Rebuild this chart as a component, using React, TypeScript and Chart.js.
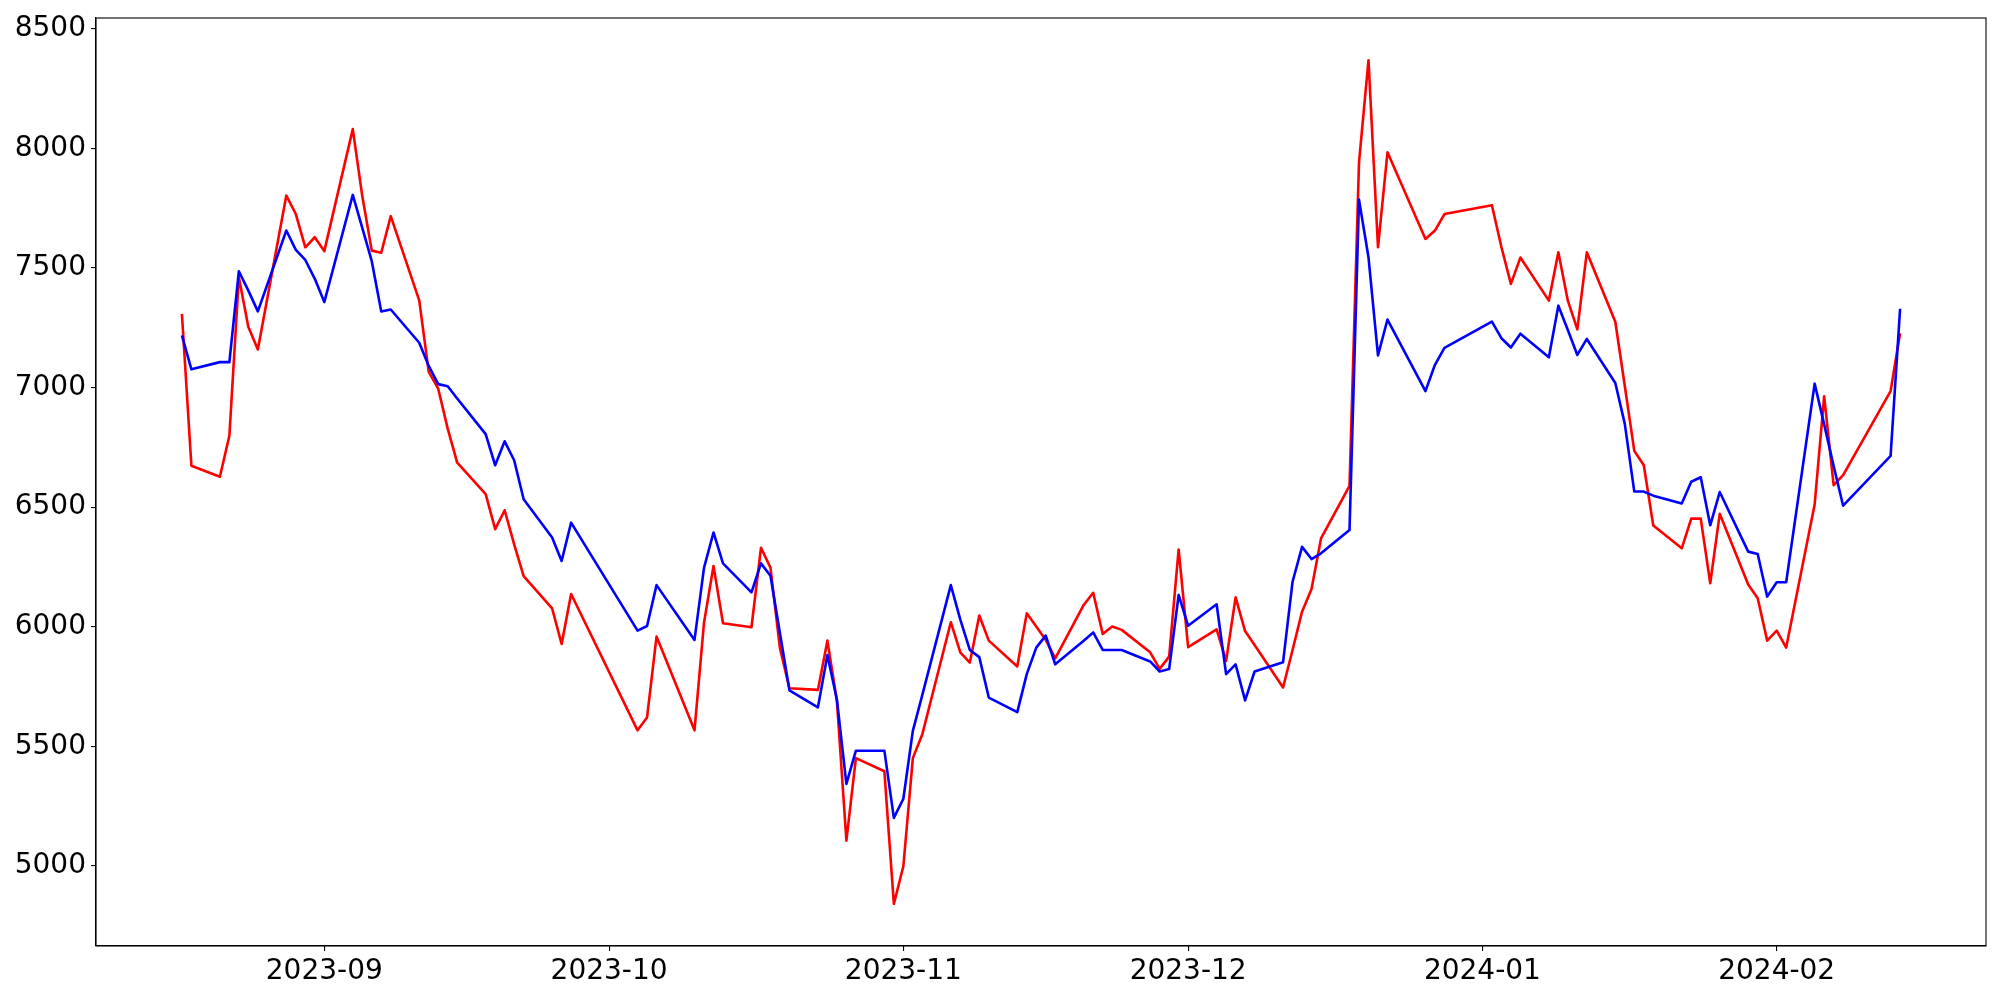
import React, { useEffect, useRef } from "react";
import { Chart, registerables } from "chart.js";

Chart.register(...registerables);

const dates: string[] = [
  "2023-08-17", "2023-08-18", "2023-08-21", "2023-08-22", "2023-08-23", "2023-08-24", "2023-08-25",
  "2023-08-28", "2023-08-29", "2023-08-30", "2023-08-31", "2023-09-01",
  "2023-09-04", "2023-09-05", "2023-09-06", "2023-09-07", "2023-09-08",
  "2023-09-11", "2023-09-12", "2023-09-13", "2023-09-14", "2023-09-15",
  "2023-09-18", "2023-09-19", "2023-09-20", "2023-09-21", "2023-09-22",
  "2023-09-25", "2023-09-26", "2023-09-27",
  "2023-10-04", "2023-10-05", "2023-10-06",
  "2023-10-10", "2023-10-11", "2023-10-12", "2023-10-13",
  "2023-10-16", "2023-10-17", "2023-10-18", "2023-10-19", "2023-10-20",
  "2023-10-23", "2023-10-24", "2023-10-25", "2023-10-26", "2023-10-27",
  "2023-10-30", "2023-10-31", "2023-11-01", "2023-11-02", "2023-11-03",
  "2023-11-06", "2023-11-07", "2023-11-08", "2023-11-09", "2023-11-10",
  "2023-11-13", "2023-11-14", "2023-11-15", "2023-11-16", "2023-11-17",
  "2023-11-20", "2023-11-21", "2023-11-22", "2023-11-23", "2023-11-24",
  "2023-11-27", "2023-11-28", "2023-11-29", "2023-11-30", "2023-12-01",
  "2023-12-04", "2023-12-05", "2023-12-06", "2023-12-07", "2023-12-08",
  "2023-12-11", "2023-12-12", "2023-12-13", "2023-12-14", "2023-12-15",
  "2023-12-18", "2023-12-19", "2023-12-20", "2023-12-21", "2023-12-22",
  "2023-12-26", "2023-12-27", "2023-12-28",
  "2024-01-02", "2024-01-03", "2024-01-04", "2024-01-05",
  "2024-01-08", "2024-01-09", "2024-01-10", "2024-01-11", "2024-01-12",
  "2024-01-15", "2024-01-16", "2024-01-17", "2024-01-18", "2024-01-19",
  "2024-01-22", "2024-01-23", "2024-01-24", "2024-01-25", "2024-01-26",
  "2024-01-29", "2024-01-30", "2024-01-31", "2024-02-01", "2024-02-02",
  "2024-02-05", "2024-02-06", "2024-02-07", "2024-02-08",
  "2024-02-13", "2024-02-14",
];

const redValues: number[] = [
  7308, 6673, 6627, 6798, 7461, 7253, 7159,
  7802, 7725, 7586, 7628, 7570,
  8080, 7800, 7572, 7563, 7716,
  7364, 7065, 6995, 6828, 6686,
  6554, 6408, 6487, 6344, 6212,
  6077, 5928, 6137,
  5567, 5621, 5959,
  5567, 6017, 6254, 6015,
  5998, 6330, 6247, 5910, 5743,
  5736, 5942, 5690, 5106, 5451,
  5396, 4842, 4999, 5451, 5551,
  6019, 5893, 5850, 6047, 5942,
  5834, 6056, 6001, 5945, 5868,
  6091, 6142, 5970, 6001, 5987,
  5893, 5824, 5875, 6323, 5915,
  5989, 5857, 6123, 5982, 5924,
  5746, 5903, 6063, 6158, 6369,
  6589, 7941, 8368, 7586, 7983,
  7621, 7656, 7725,
  7762, 7587, 7433, 7543,
  7363, 7565, 7363, 7243, 7565,
  7275, 7006, 6735, 6675, 6423,
  6328, 6452, 6452, 6182, 6472,
  6177, 6119, 5942, 5984, 5913,
  6511, 6963, 6592, 6634,
  6985, 7227,
];

const blueValues: number[] = [
  7218, 7076, 7106, 7106, 7486, 7405, 7318,
  7656, 7575, 7533, 7454, 7357,
  7805, 7667, 7528, 7318, 7326,
  7187, 7090, 7014, 7005, 6954,
  6805, 6675, 6775, 6696, 6533,
  6373, 6275, 6435,
  5984, 6003, 6174,
  5945, 6246, 6394, 6265,
  6144, 6265, 6213, 5973, 5734,
  5663, 5882, 5695, 5343, 5482,
  5482, 5201, 5281, 5565, 5715,
  6174, 6030, 5903, 5873, 5704,
  5643, 5802, 5913, 5963, 5843,
  5942, 5976, 5903, 5903, 5903,
  5855, 5813, 5823, 6133, 6004,
  6094, 5802, 5843, 5692, 5813,
  5852, 6188, 6334, 6283, 6307,
  6404, 7785, 7544, 7134, 7284,
  6985, 7095, 7166,
  7275, 7206, 7167, 7225,
  7126, 7342, 7240, 7136, 7203,
  7019, 6848, 6565, 6565, 6548,
  6515, 6606, 6625, 6424, 6563,
  6314, 6304, 6126, 6186, 6186,
  7016, 6846, 6672, 6506,
  6714, 7329,
];

const xTickDates: string[] = ["2023-09-01", "2023-10-01", "2023-11-01", "2023-12-01", "2024-01-01", "2024-02-01"];
const xTickLabels: string[] = ["2023-09", "2023-10", "2023-11", "2023-12", "2024-01", "2024-02"];
const yTickValues: number[] = [5000, 5500, 6000, 6500, 7000, 7500, 8000, 8500];

const DAY_MS = 86400000;
const toDay = (s: string) => Date.parse(s + "T00:00:00Z") / DAY_MS;

const FONT = { family: "'DejaVu Sans', sans-serif", size: 28 };

const framePlugin = {
  id: "frameBox",
  afterDraw(chart: any) {
    const { ctx, chartArea: a } = chart;
    ctx.save();
    ctx.strokeStyle = "#000000";
    ctx.lineWidth = 1.1;
    ctx.strokeRect(a.left, a.top, a.right - a.left, a.bottom - a.top);
    ctx.restore();
  },
};

export default function App() {
  const canvasRef = useRef<HTMLCanvasElement | null>(null);

  useEffect(() => {
    const canvas = canvasRef.current;
    if (!canvas) return;

    const xs = dates.map(toDay);
    const xFirst = xs[0];
    const xLast = xs[xs.length - 1];
    const xPad = (xLast - xFirst) * 0.05;
    const allY = [...redValues, ...blueValues];
    const yMinData = Math.min(...allY);
    const yMaxData = Math.max(...allY);
    const yPad = (yMaxData - yMinData) * 0.05;

    const blueData = xs.map((x, i) => ({ x, y: blueValues[i] }));
    const redData = xs.map((x, i) => ({ x, y: redValues[i] }));

    const chart = new Chart(canvas, {
      type: "line",
      data: {
        datasets: [
          {
            label: "blue",
            data: blueData,
            borderColor: "#0000ff",
            backgroundColor: "#0000ff",
            borderWidth: 2.6,
            pointRadius: 0,
            tension: 0,
            fill: false,
            borderJoinStyle: "round",
          },
          {
            label: "red",
            data: redData,
            borderColor: "#ff0000",
            backgroundColor: "#ff0000",
            borderWidth: 2.6,
            pointRadius: 0,
            tension: 0,
            fill: false,
            borderJoinStyle: "round",
          },
        ],
      },
      options: {
        animation: false,
        responsive: false,
        devicePixelRatio: 1,
        parsing: false,
        normalized: true,
        layout: { padding: { left: 0, top: 18, right: 14, bottom: 0 } },
        plugins: {
          legend: { display: false },
          tooltip: { enabled: false },
          title: { display: false },
        },
        scales: {
          x: {
            type: "linear",
            min: xFirst - xPad,
            max: xLast + xPad,
            afterBuildTicks: (scale: any) => {
              scale.ticks = xTickDates.map((d) => ({ value: toDay(d) }));
            },
            afterFit: (scale: any) => {
              scale.height = 54;
              scale.paddingLeft = 0;
              scale.paddingRight = 0;
              scale.paddingTop = 0;
              scale.paddingBottom = 0;
            },
            grid: {
              display: true,
              drawOnChartArea: false,
              drawTicks: true,
              tickLength: 5,
              color: "#000000",
              lineWidth: 1.1,
            },
            border: { display: true, color: "#000000", width: 1.1 },
            ticks: {
              autoSkip: false,
              maxRotation: 0,
              minRotation: 0,
              padding: 4,
              color: "#000000",
              font: FONT,
              callback: (_v: any, i: number) => xTickLabels[i],
            },
          },
          y: {
            type: "linear",
            min: yMinData - yPad,
            max: yMaxData + yPad,
            afterBuildTicks: (scale: any) => {
              scale.ticks = yTickValues.map((v) => ({ value: v }));
            },
            afterFit: (scale: any) => {
              scale.width = 96;
              scale.paddingLeft = 0;
              scale.paddingRight = 0;
              scale.paddingTop = 0;
              scale.paddingBottom = 0;
            },
            grid: {
              display: true,
              drawOnChartArea: false,
              drawTicks: true,
              tickLength: 5,
              color: "#000000",
              lineWidth: 1.1,
            },
            border: { display: true, color: "#000000", width: 1.1 },
            ticks: {
              autoSkip: false,
              padding: 5,
              color: "#000000",
              font: FONT,
              callback: (v: any) => String(v),
            },
          },
        },
      } as any,
      plugins: [framePlugin],
    });

    return () => {
      chart.destroy();
    };
  }, []);

  return (
    <div style={{ position: "absolute", left: 0, top: 0, width: 2000, height: 1000, background: "#ffffff" }}>
      <canvas ref={canvasRef} width={2000} height={1000} style={{ display: "block", width: 2000, height: 1000 }} />
    </div>
  );
}
